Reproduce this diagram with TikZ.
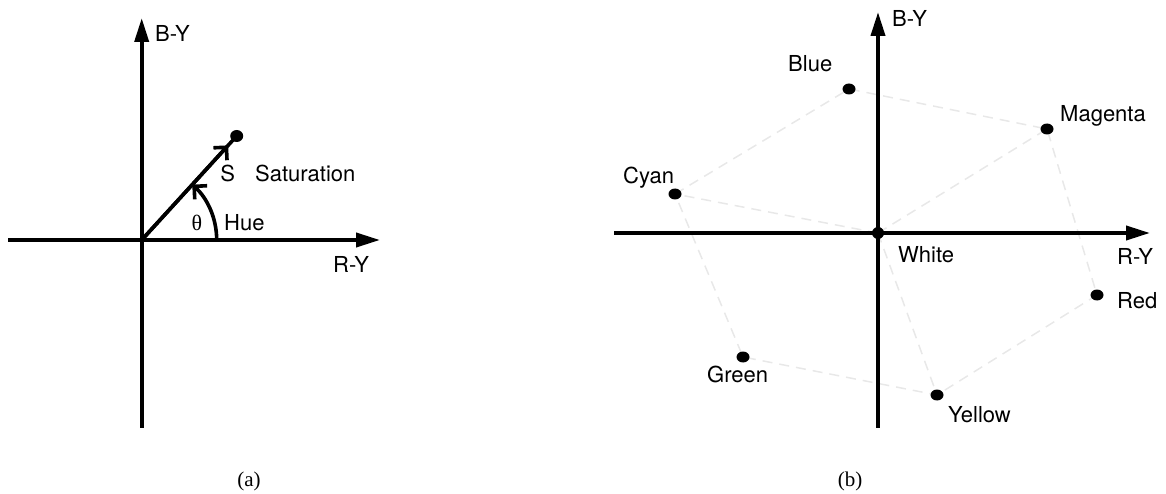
\documentclass[tikz,border=0pt]{standalone}
\usepackage{fontspec}
\setmainfont{TeX Gyre Heros}
\newfontfamily\capfont{Liberation Serif}
\usetikzlibrary{arrows.meta,calc}

\tikzset{
  axis/.style={line width=3.8pt, -{Triangle[length=24pt,width=14pt]}},
  axisplain/.style={line width=3.8pt},
  vec/.style={line width=3.6pt},
  barb/.style={line width=3.6pt, -{Straight Barb[angle=90:13pt]}},
  guide/.style={black!9, line width=1.5pt, dash pattern=on 10pt off 7pt},
  dot/.style={fill=black, draw=none},
  lbl/.style={font=\fontsize{22}{26}\selectfont, inner sep=0pt, anchor=base west},
  lblc/.style={font=\fontsize{22}{26}\selectfont, inner sep=0pt, anchor=base},
  greek/.style={font=\capfont\fontsize{22}{26}\selectfont, inner sep=0pt, anchor=base},
  captext/.style={font=\capfont\fontsize{21}{26}\selectfont, inner sep=0pt, anchor=base}
}

\begin{document}
\begin{tikzpicture}[x=1pt, y=-1pt]
\useasboundingbox (0,0) rectangle (1166,494);

% ---------- (a) hue and saturation as a polar vector ----------
\coordinate (aO) at (141.7,240);
\coordinate (aLeft) at (8,240);
\coordinate (aRight) at (380,240);
\coordinate (aBot) at (141.7,428);
\coordinate (aTop) at (141.7,18);
\coordinate (aS) at (236.7,136);
\coordinate (aHue) at (216.7,240);

\draw[axisplain] (aO) -- (aBot);
\draw[axis] (aO) -- (aTop);
\draw[axisplain] (aO) -- (aLeft);
\draw[axis] (aO) -- (aRight);

\draw[vec] (aO) -- (aS);
\draw[barb] (aO) -- ($(aO)!0.91!(aS)$);
\fill[dot] (aS) ellipse[x radius=6.5, y radius=6];
\draw[barb] (aHue) arc[start angle=0, end angle=-47.6, radius=75];

\node[lbl]  (aBY)  at (155,42)  {B-Y};
\node[lbl]  (aRY)  at (333,272) {R-Y};
\node[lblc] (aSl)  at (227.7,182) {S};
\node[lbl]  (aSat) at (255,182) {Saturation};
\node[greek] (aTh)  at (197,230) {θ};
\node[lbl]  (aHu)  at (224,230) {Hue};
\node[captext] (aCap) at (249,486) {(a)};

% ---------- (b) colour hexagon in the colour-difference plane ----------
\coordinate (bO) at (878,233);
\coordinate (bLeft) at (614,233);
\coordinate (bRight) at (1150,233);
\coordinate (bBot) at (878,428);
\coordinate (bTop) at (878,12);

\coordinate (Blue) at (849,89);
\coordinate (Magenta) at (1047,129);
\coordinate (Cyan) at (675,194);
\coordinate (Red) at (1097,295);
\coordinate (Green) at (743,357);
\coordinate (Yellow) at (937,395);

\draw[guide] (Cyan) -- (Blue) -- (Magenta) -- (Red) -- (Yellow) -- (Green) -- cycle;
\draw[guide] (bO) -- (Cyan);
\draw[guide] (bO) -- (Magenta);
\draw[guide] (bO) -- (Yellow);

\draw[axisplain] (bO) -- (bBot);
\draw[axis] (bO) -- (bTop);
\draw[axisplain] (bO) -- (bLeft);
\draw[axis] (bO) -- (bRight);

\foreach \c in {Blue,Magenta,Cyan,Red,Green,Yellow}
  \fill[dot] (\c) ellipse[x radius=6.5, y radius=5.5];
\fill[dot] (bO) circle[radius=6];

\node[lbl] (bBY) at (892,27)  {B-Y};
\node[lbl] (bRY) at (1117,264) {R-Y};
\node[lbl] (lBlue) at (788,72) {Blue};
\node[lbl] (lMag) at (1060,122) {Magenta};
\node[lbl] (lCyan) at (623,184) {Cyan};
\node[lbl] (lWhite) at (898,262) {White};
\node[lbl] (lRed) at (1117,308) {Red};
\node[lbl] (lGreen) at (707,382) {Green};
\node[lbl] (lYellow) at (948,422) {Yellow};
\node[captext] (bCap) at (850,486) {(b)};
\end{tikzpicture}
\end{document}
